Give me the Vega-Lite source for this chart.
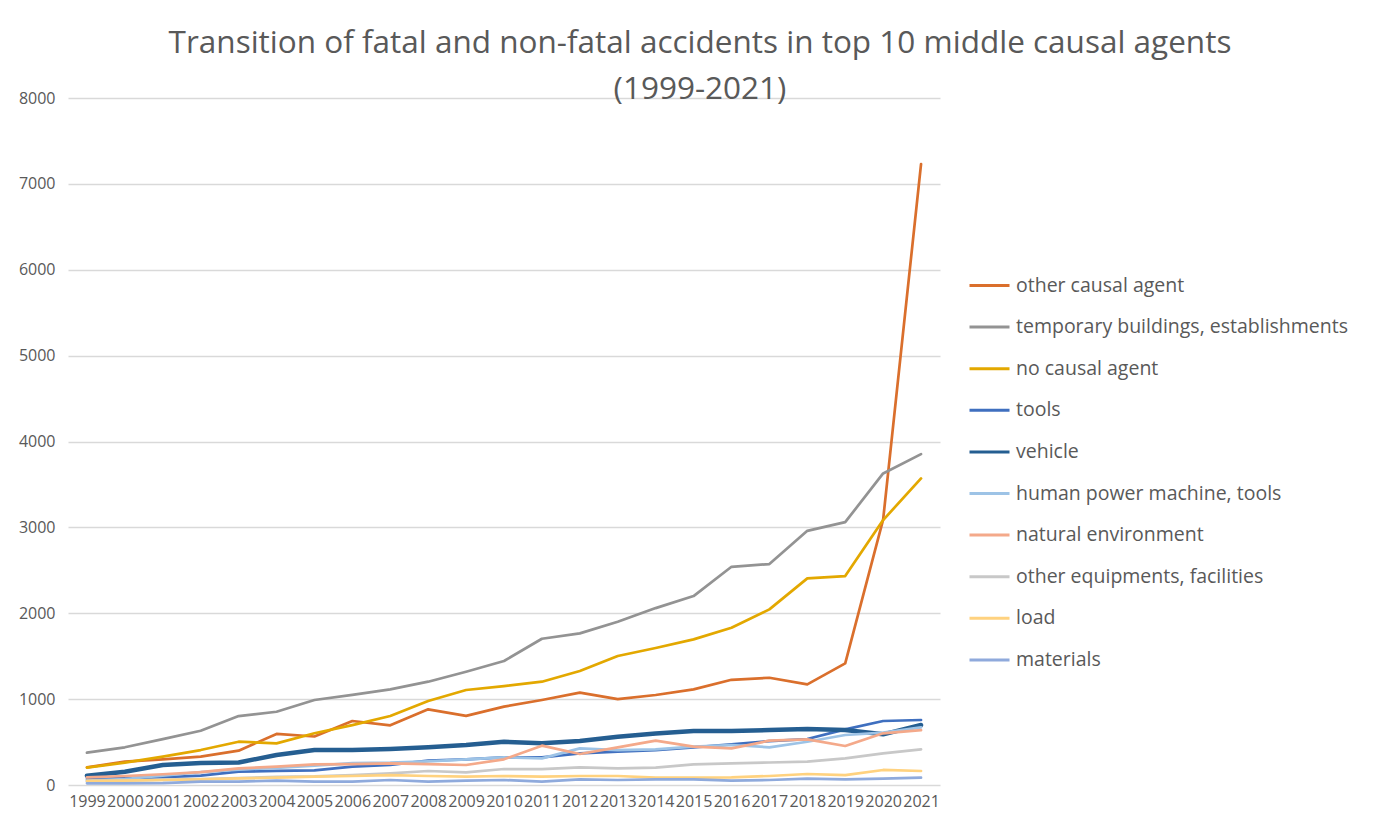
{
  "$schema": "https://vega.github.io/schema/vega-lite/v6.json",
  "width": 872,
  "height": 687,
  "autosize": "none",
  "padding": {"left": 68, "top": 98, "right": 442, "bottom": 43},
  "background": "white",
  "title": {
    "text": ["Transition of fatal and non-fatal accidents in top 10 middle causal agents", "(1999-2021)"],
    "anchor": "middle",
    "frame": "group",
    "dx": 196,
    "offset": -15,
    "font": "Open Sans",
    "fontSize": 31.5,
    "fontWeight": "normal",
    "color": "#595959",
    "lineHeight": 46
  },
  "config": {
    "view": {"stroke": null},
    "font": "Open Sans"
  },
  "data": {
    "values": [
      {"year": "1999", "agent": "other causal agent", "value": 206},
      {"year": "2000", "agent": "other causal agent", "value": 272},
      {"year": "2001", "agent": "other causal agent", "value": 299},
      {"year": "2002", "agent": "other causal agent", "value": 330},
      {"year": "2003", "agent": "other causal agent", "value": 400},
      {"year": "2004", "agent": "other causal agent", "value": 595},
      {"year": "2005", "agent": "other causal agent", "value": 565},
      {"year": "2006", "agent": "other causal agent", "value": 745},
      {"year": "2007", "agent": "other causal agent", "value": 695},
      {"year": "2008", "agent": "other causal agent", "value": 881},
      {"year": "2009", "agent": "other causal agent", "value": 805},
      {"year": "2010", "agent": "other causal agent", "value": 912},
      {"year": "2011", "agent": "other causal agent", "value": 990},
      {"year": "2012", "agent": "other causal agent", "value": 1075},
      {"year": "2013", "agent": "other causal agent", "value": 1000},
      {"year": "2014", "agent": "other causal agent", "value": 1048},
      {"year": "2015", "agent": "other causal agent", "value": 1114},
      {"year": "2016", "agent": "other causal agent", "value": 1225},
      {"year": "2017", "agent": "other causal agent", "value": 1249},
      {"year": "2018", "agent": "other causal agent", "value": 1172},
      {"year": "2019", "agent": "other causal agent", "value": 1416},
      {"year": "2020", "agent": "other causal agent", "value": 3090},
      {"year": "2021", "agent": "other causal agent", "value": 7230},

      {"year": "1999", "agent": "temporary buildings, establishments", "value": 376},
      {"year": "2000", "agent": "temporary buildings, establishments", "value": 439},
      {"year": "2001", "agent": "temporary buildings, establishments", "value": 535},
      {"year": "2002", "agent": "temporary buildings, establishments", "value": 632},
      {"year": "2003", "agent": "temporary buildings, establishments", "value": 803},
      {"year": "2004", "agent": "temporary buildings, establishments", "value": 853},
      {"year": "2005", "agent": "temporary buildings, establishments", "value": 990},
      {"year": "2006", "agent": "temporary buildings, establishments", "value": 1050},
      {"year": "2007", "agent": "temporary buildings, establishments", "value": 1114},
      {"year": "2008", "agent": "temporary buildings, establishments", "value": 1203},
      {"year": "2009", "agent": "temporary buildings, establishments", "value": 1319},
      {"year": "2010", "agent": "temporary buildings, establishments", "value": 1444},
      {"year": "2011", "agent": "temporary buildings, establishments", "value": 1703},
      {"year": "2012", "agent": "temporary buildings, establishments", "value": 1766},
      {"year": "2013", "agent": "temporary buildings, establishments", "value": 1901},
      {"year": "2014", "agent": "temporary buildings, establishments", "value": 2060},
      {"year": "2015", "agent": "temporary buildings, establishments", "value": 2200},
      {"year": "2016", "agent": "temporary buildings, establishments", "value": 2541},
      {"year": "2017", "agent": "temporary buildings, establishments", "value": 2573},
      {"year": "2018", "agent": "temporary buildings, establishments", "value": 2960},
      {"year": "2019", "agent": "temporary buildings, establishments", "value": 3061},
      {"year": "2020", "agent": "temporary buildings, establishments", "value": 3628},
      {"year": "2021", "agent": "temporary buildings, establishments", "value": 3853},

      {"year": "1999", "agent": "no causal agent", "value": 202},
      {"year": "2000", "agent": "no causal agent", "value": 260},
      {"year": "2001", "agent": "no causal agent", "value": 330},
      {"year": "2002", "agent": "no causal agent", "value": 407},
      {"year": "2003", "agent": "no causal agent", "value": 504},
      {"year": "2004", "agent": "no causal agent", "value": 485},
      {"year": "2005", "agent": "no causal agent", "value": 602},
      {"year": "2006", "agent": "no causal agent", "value": 698},
      {"year": "2007", "agent": "no causal agent", "value": 803},
      {"year": "2008", "agent": "no causal agent", "value": 978},
      {"year": "2009", "agent": "no causal agent", "value": 1106},
      {"year": "2010", "agent": "no causal agent", "value": 1152},
      {"year": "2011", "agent": "no causal agent", "value": 1203},
      {"year": "2012", "agent": "no causal agent", "value": 1327},
      {"year": "2013", "agent": "no causal agent", "value": 1502},
      {"year": "2014", "agent": "no causal agent", "value": 1595},
      {"year": "2015", "agent": "no causal agent", "value": 1696},
      {"year": "2016", "agent": "no causal agent", "value": 1832},
      {"year": "2017", "agent": "no causal agent", "value": 2045},
      {"year": "2018", "agent": "no causal agent", "value": 2406},
      {"year": "2019", "agent": "no causal agent", "value": 2433},
      {"year": "2020", "agent": "no causal agent", "value": 3085},
      {"year": "2021", "agent": "no causal agent", "value": 3570},

      {"year": "1999", "agent": "tools", "value": 70},
      {"year": "2000", "agent": "tools", "value": 80},
      {"year": "2001", "agent": "tools", "value": 90},
      {"year": "2002", "agent": "tools", "value": 110},
      {"year": "2003", "agent": "tools", "value": 155},
      {"year": "2004", "agent": "tools", "value": 165},
      {"year": "2005", "agent": "tools", "value": 170},
      {"year": "2006", "agent": "tools", "value": 213},
      {"year": "2007", "agent": "tools", "value": 235},
      {"year": "2008", "agent": "tools", "value": 283},
      {"year": "2009", "agent": "tools", "value": 299},
      {"year": "2010", "agent": "tools", "value": 322},
      {"year": "2011", "agent": "tools", "value": 322},
      {"year": "2012", "agent": "tools", "value": 369},
      {"year": "2013", "agent": "tools", "value": 388},
      {"year": "2014", "agent": "tools", "value": 407},
      {"year": "2015", "agent": "tools", "value": 439},
      {"year": "2016", "agent": "tools", "value": 473},
      {"year": "2017", "agent": "tools", "value": 512},
      {"year": "2018", "agent": "tools", "value": 535},
      {"year": "2019", "agent": "tools", "value": 648},
      {"year": "2020", "agent": "tools", "value": 745},
      {"year": "2021", "agent": "tools", "value": 757},

      {"year": "1999", "agent": "vehicle", "value": 108},
      {"year": "2000", "agent": "vehicle", "value": 155},
      {"year": "2001", "agent": "vehicle", "value": 233},
      {"year": "2002", "agent": "vehicle", "value": 256},
      {"year": "2003", "agent": "vehicle", "value": 262},
      {"year": "2004", "agent": "vehicle", "value": 349},
      {"year": "2005", "agent": "vehicle", "value": 407},
      {"year": "2006", "agent": "vehicle", "value": 407},
      {"year": "2007", "agent": "vehicle", "value": 419},
      {"year": "2008", "agent": "vehicle", "value": 439},
      {"year": "2009", "agent": "vehicle", "value": 466},
      {"year": "2010", "agent": "vehicle", "value": 504},
      {"year": "2011", "agent": "vehicle", "value": 485},
      {"year": "2012", "agent": "vehicle", "value": 512},
      {"year": "2013", "agent": "vehicle", "value": 563},
      {"year": "2014", "agent": "vehicle", "value": 601},
      {"year": "2015", "agent": "vehicle", "value": 628},
      {"year": "2016", "agent": "vehicle", "value": 628},
      {"year": "2017", "agent": "vehicle", "value": 640},
      {"year": "2018", "agent": "vehicle", "value": 652},
      {"year": "2019", "agent": "vehicle", "value": 640},
      {"year": "2020", "agent": "vehicle", "value": 590},
      {"year": "2021", "agent": "vehicle", "value": 698},

      {"year": "1999", "agent": "human power machine, tools", "value": 50},
      {"year": "2000", "agent": "human power machine, tools", "value": 70},
      {"year": "2001", "agent": "human power machine, tools", "value": 110},
      {"year": "2002", "agent": "human power machine, tools", "value": 150},
      {"year": "2003", "agent": "human power machine, tools", "value": 180},
      {"year": "2004", "agent": "human power machine, tools", "value": 200},
      {"year": "2005", "agent": "human power machine, tools", "value": 225},
      {"year": "2006", "agent": "human power machine, tools", "value": 255},
      {"year": "2007", "agent": "human power machine, tools", "value": 260},
      {"year": "2008", "agent": "human power machine, tools", "value": 276},
      {"year": "2009", "agent": "human power machine, tools", "value": 299},
      {"year": "2010", "agent": "human power machine, tools", "value": 322},
      {"year": "2011", "agent": "human power machine, tools", "value": 310},
      {"year": "2012", "agent": "human power machine, tools", "value": 427},
      {"year": "2013", "agent": "human power machine, tools", "value": 407},
      {"year": "2014", "agent": "human power machine, tools", "value": 415},
      {"year": "2015", "agent": "human power machine, tools", "value": 446},
      {"year": "2016", "agent": "human power machine, tools", "value": 466},
      {"year": "2017", "agent": "human power machine, tools", "value": 439},
      {"year": "2018", "agent": "human power machine, tools", "value": 504},
      {"year": "2019", "agent": "human power machine, tools", "value": 582},
      {"year": "2020", "agent": "human power machine, tools", "value": 609},
      {"year": "2021", "agent": "human power machine, tools", "value": 671},

      {"year": "1999", "agent": "natural environment", "value": 89},
      {"year": "2000", "agent": "natural environment", "value": 105},
      {"year": "2001", "agent": "natural environment", "value": 125},
      {"year": "2002", "agent": "natural environment", "value": 151},
      {"year": "2003", "agent": "natural environment", "value": 194},
      {"year": "2004", "agent": "natural environment", "value": 213},
      {"year": "2005", "agent": "natural environment", "value": 241},
      {"year": "2006", "agent": "natural environment", "value": 244},
      {"year": "2007", "agent": "natural environment", "value": 252},
      {"year": "2008", "agent": "natural environment", "value": 244},
      {"year": "2009", "agent": "natural environment", "value": 233},
      {"year": "2010", "agent": "natural environment", "value": 299},
      {"year": "2011", "agent": "natural environment", "value": 458},
      {"year": "2012", "agent": "natural environment", "value": 361},
      {"year": "2013", "agent": "natural environment", "value": 439},
      {"year": "2014", "agent": "natural environment", "value": 516},
      {"year": "2015", "agent": "natural environment", "value": 446},
      {"year": "2016", "agent": "natural environment", "value": 427},
      {"year": "2017", "agent": "natural environment", "value": 516},
      {"year": "2018", "agent": "natural environment", "value": 532},
      {"year": "2019", "agent": "natural environment", "value": 454},
      {"year": "2020", "agent": "natural environment", "value": 602},
      {"year": "2021", "agent": "natural environment", "value": 640},

      {"year": "1999", "agent": "other equipments, facilities", "value": 40},
      {"year": "2000", "agent": "other equipments, facilities", "value": 50},
      {"year": "2001", "agent": "other equipments, facilities", "value": 60},
      {"year": "2002", "agent": "other equipments, facilities", "value": 70},
      {"year": "2003", "agent": "other equipments, facilities", "value": 80},
      {"year": "2004", "agent": "other equipments, facilities", "value": 95},
      {"year": "2005", "agent": "other equipments, facilities", "value": 100},
      {"year": "2006", "agent": "other equipments, facilities", "value": 116},
      {"year": "2007", "agent": "other equipments, facilities", "value": 136},
      {"year": "2008", "agent": "other equipments, facilities", "value": 163},
      {"year": "2009", "agent": "other equipments, facilities", "value": 147},
      {"year": "2010", "agent": "other equipments, facilities", "value": 186},
      {"year": "2011", "agent": "other equipments, facilities", "value": 186},
      {"year": "2012", "agent": "other equipments, facilities", "value": 206},
      {"year": "2013", "agent": "other equipments, facilities", "value": 194},
      {"year": "2014", "agent": "other equipments, facilities", "value": 202},
      {"year": "2015", "agent": "other equipments, facilities", "value": 241},
      {"year": "2016", "agent": "other equipments, facilities", "value": 252},
      {"year": "2017", "agent": "other equipments, facilities", "value": 262},
      {"year": "2018", "agent": "other equipments, facilities", "value": 272},
      {"year": "2019", "agent": "other equipments, facilities", "value": 310},
      {"year": "2020", "agent": "other equipments, facilities", "value": 369},
      {"year": "2021", "agent": "other equipments, facilities", "value": 415},

      {"year": "1999", "agent": "load", "value": 47},
      {"year": "2000", "agent": "load", "value": 50},
      {"year": "2001", "agent": "load", "value": 58},
      {"year": "2002", "agent": "load", "value": 66},
      {"year": "2003", "agent": "load", "value": 78},
      {"year": "2004", "agent": "load", "value": 85},
      {"year": "2005", "agent": "load", "value": 97},
      {"year": "2006", "agent": "load", "value": 105},
      {"year": "2007", "agent": "load", "value": 116},
      {"year": "2008", "agent": "load", "value": 105},
      {"year": "2009", "agent": "load", "value": 97},
      {"year": "2010", "agent": "load", "value": 105},
      {"year": "2011", "agent": "load", "value": 97},
      {"year": "2012", "agent": "load", "value": 105},
      {"year": "2013", "agent": "load", "value": 105},
      {"year": "2014", "agent": "load", "value": 85},
      {"year": "2015", "agent": "load", "value": 85},
      {"year": "2016", "agent": "load", "value": 89},
      {"year": "2017", "agent": "load", "value": 105},
      {"year": "2018", "agent": "load", "value": 128},
      {"year": "2019", "agent": "load", "value": 116},
      {"year": "2020", "agent": "load", "value": 175},
      {"year": "2021", "agent": "load", "value": 163},

      {"year": "1999", "agent": "materials", "value": 20},
      {"year": "2000", "agent": "materials", "value": 20},
      {"year": "2001", "agent": "materials", "value": 22},
      {"year": "2002", "agent": "materials", "value": 39},
      {"year": "2003", "agent": "materials", "value": 39},
      {"year": "2004", "agent": "materials", "value": 50},
      {"year": "2005", "agent": "materials", "value": 39},
      {"year": "2006", "agent": "materials", "value": 39},
      {"year": "2007", "agent": "materials", "value": 58},
      {"year": "2008", "agent": "materials", "value": 39},
      {"year": "2009", "agent": "materials", "value": 50},
      {"year": "2010", "agent": "materials", "value": 58},
      {"year": "2011", "agent": "materials", "value": 39},
      {"year": "2012", "agent": "materials", "value": 66},
      {"year": "2013", "agent": "materials", "value": 58},
      {"year": "2014", "agent": "materials", "value": 66},
      {"year": "2015", "agent": "materials", "value": 66},
      {"year": "2016", "agent": "materials", "value": 50},
      {"year": "2017", "agent": "materials", "value": 58},
      {"year": "2018", "agent": "materials", "value": 74},
      {"year": "2019", "agent": "materials", "value": 66},
      {"year": "2020", "agent": "materials", "value": 74},
      {"year": "2021", "agent": "materials", "value": 85}
    ]
  },
  "mark": {"type": "line", "strokeJoin": "round", "strokeCap": "round"},
  "encoding": {
    "x": {
      "field": "year",
      "type": "ordinal",
      "scale": {"type": "point", "padding": 0.5},
      "axis": {
        "title": null,
        "labelAngle": 0,
        "labelOverlap": false,
        "labelBound": false,
        "labelFlush": false,
        "labelFont": "Open Sans",
        "labelFontSize": 16,
        "labelColor": "#595959",
        "labelPadding": 8,
        "ticks": false,
        "domain": false,
        "grid": false
      }
    },
    "y": {
      "field": "value",
      "type": "quantitative",
      "scale": {"domain": [0, 8000], "nice": false, "zero": true},
      "axis": {
        "title": null,
        "format": "d",
        "values": [0, 1000, 2000, 3000, 4000, 5000, 6000, 7000, 8000],
        "labelFont": "Open Sans",
        "labelFontSize": 16,
        "labelColor": "#595959",
        "labelPadding": 13,
        "ticks": false,
        "domain": false,
        "grid": true,
        "gridColor": "#D9D9D9",
        "gridWidth": 1.3
      }
    },
    "color": {
      "field": "agent",
      "type": "nominal",
      "scale": {
        "domain": ["other causal agent", "temporary buildings, establishments", "no causal agent", "tools", "vehicle", "human power machine, tools", "natural environment", "other equipments, facilities", "load", "materials"],
        "range": ["#DA6F2C", "#939393", "#E3A800", "#3F6FBF", "#255E91", "#9DC3E6", "#F4A98A", "#C8C8C8", "#FFD27F", "#8FAADC"]
      },
      "legend": {
        "title": null,
        "orient": "none",
        "legendX": 900,
        "legendY": 166,
        "padding": 0,
        "symbolType": "stroke",
        "symbolSize": 1600,
        "symbolStrokeWidth": 3,
        "labelFont": "Open Sans",
        "labelFontSize": 19.5,
        "labelColor": "#595959",
        "labelOffset": 5,
        "rowPadding": 10.6,
        "labelLimit": 500
      }
    },
    "strokeWidth": {
      "condition": {"test": "datum.agent === 'vehicle'", "value": 4.5},
      "value": 2.7
    }
  }
}
